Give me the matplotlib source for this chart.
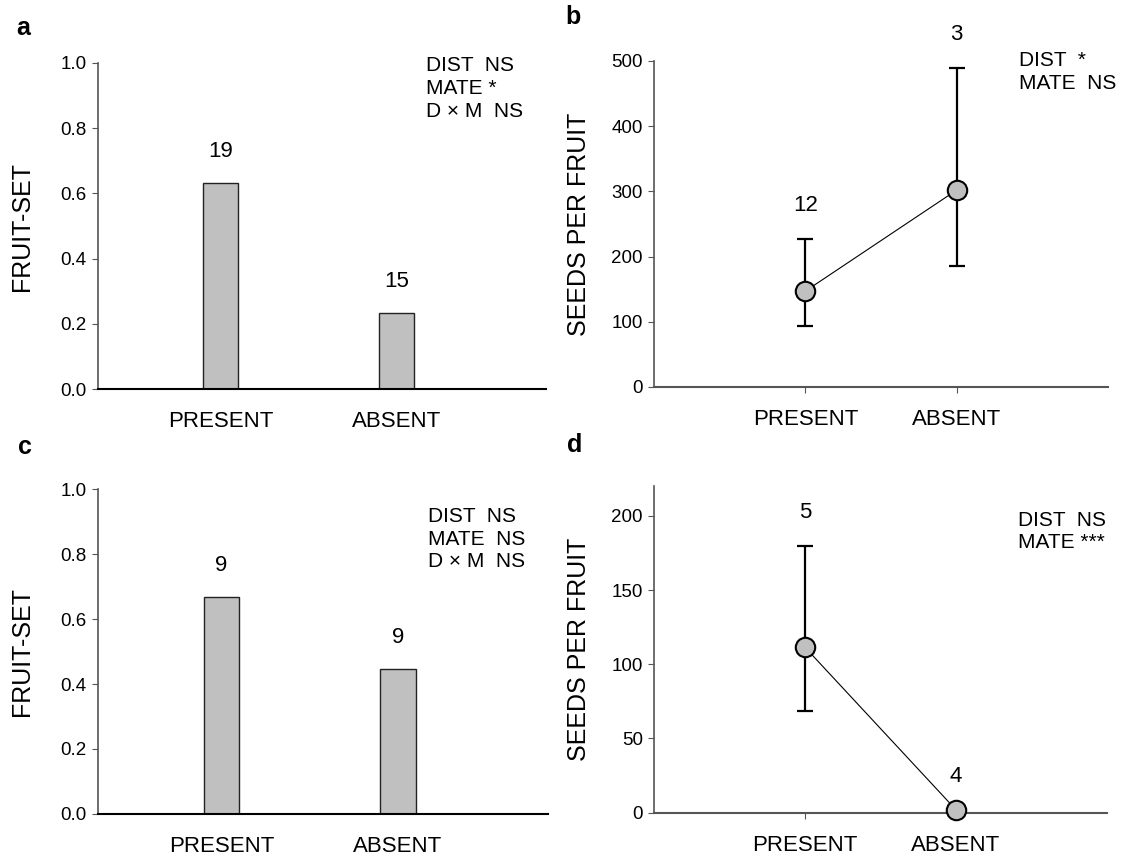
import numpy as np
import matplotlib
matplotlib.use("Agg")
import matplotlib.pyplot as plt

plt.rcParams['font.family'] = ['Liberation Sans', 'DejaVu Sans']

groups = ["PRESENT", "ABSENT"]

# panel a / c : fruit-set (bars)
fruitset_a = [0.632, 0.233]
n_a = ["19", "15"]
stats_a = "DIST  NS\nMATE *\nD \u00d7 M  NS"

fruitset_c = [0.667, 0.445]
n_c = ["9", "9"]
stats_c = "DIST  NS\nMATE  NS\nD \u00d7 M  NS"

# panel b / d : seeds per fruit (mean with error bars)
seeds_b = [147, 302]
seeds_b_lo = [94, 186]
seeds_b_hi = [227, 490]
n_b = ["12", "3"]
stats_b = "DIST  *\nMATE  NS"

seeds_d = [111.5, 2]
seeds_d_lo = [68.5, 2]
seeds_d_hi = [180, 2]
n_d = ["5", "4"]
stats_d = "DIST  NS\nMATE ***"

fig = plt.figure(figsize=(11.21, 8.59), dpi=100)
axa = fig.add_axes([0.0871, 0.547, 0.400, 0.3797])
axb = fig.add_axes([0.5834, 0.5495, 0.405, 0.3795])
axc = fig.add_axes([0.0871, 0.0524, 0.402, 0.3783])
axd = fig.add_axes([0.5834, 0.0539, 0.404, 0.3801])

spine_col = "#555555"
x = np.arange(len(groups))


def style(ax):
    for s in ["top", "right"]:
        ax.spines[s].set_visible(False)
    ax.spines["left"].set_color(spine_col)
    ax.spines["bottom"].set_color(spine_col)
    ax.spines["left"].set_linewidth(1.2)
    ax.spines["bottom"].set_linewidth(1.5)
    ax.tick_params(axis="y", direction="out", length=4, color=spine_col,
                   labelsize=13.5, pad=4)
    ax.tick_params(axis="x", direction="out", length=4, color=spine_col,
                   labelsize=16, pad=12)


def bar_panel(ax, vals, ns, stats, stats_y):
    ax.bar(x, vals, width=0.2, color="#c0c0c0", edgecolor="#222222", linewidth=1)
    for xi, v, n in zip(x, vals, ns):
        ax.annotate(n, (xi, v), xytext=(0, 23), textcoords="offset points",
                    ha="center", va="center", fontsize=16)
    ax.set_xlim(-0.7, 1.85)
    ax.set_ylim(0, 1.0)
    ax.set_yticks(np.arange(0, 1.01, 0.2))
    ax.set_yticklabels([f"{t:.1f}" for t in np.arange(0, 1.01, 0.2)])
    ax.set_xticks(x)
    ax.set_xticklabels(groups)
    style(ax)
    ax.tick_params(axis="x", length=0, pad=16)
    ax.spines["bottom"].set_color("black")
    ax.set_ylabel("FRUIT-SET", fontsize=18, labelpad=19)
    ax.text(0.732, stats_y, stats, transform=ax.transAxes, ha="left", va="top",
            fontsize=15, linespacing=1.25)


def seed_panel(ax, vals, lo, hi, ns, stats, ymax, step, stats_y):
    vals = np.array(vals)
    yerr = [vals - np.array(lo), np.array(hi) - vals]
    ax.errorbar(x, vals, yerr=yerr, fmt="none", ecolor="black", elinewidth=1.6,
                capsize=5.6, capthick=1.6, zorder=2)
    ax.plot(x, vals, color="black", linewidth=0.8, marker="o", markersize=14,
            markerfacecolor="#c0c0c0", markeredgecolor="black",
            markeredgewidth=1.5, zorder=3, clip_on=False)
    for xi, h, n in zip(x, hi, ns):
        ax.annotate(n, (xi, h), xytext=(0, 24), textcoords="offset points",
                    ha="center", va="center", fontsize=16, annotation_clip=False)
    ax.set_xlim(-1, 2)
    ax.set_ylim(0, ymax)
    ax.set_yticks(np.arange(0, ymax + 1, step))
    ax.set_xticks(x)
    ax.set_xticklabels(groups)
    style(ax)
    ax.set_ylabel("SEEDS PER FRUIT", fontsize=18, labelpad=15)
    ax.text(0.804, stats_y, stats, transform=ax.transAxes, ha="left", va="top",
            fontsize=15, linespacing=1.25)


bar_panel(axa, fruitset_a, n_a, stats_a, 1.02)
bar_panel(axc, fruitset_c, n_c, stats_c, 0.945)
seed_panel(axb, seeds_b, seeds_b_lo, seeds_b_hi, n_b, stats_b, 500, 100, 1.03)
seed_panel(axd, seeds_d, seeds_d_lo, seeds_d_hi, n_d, stats_d, 220, 50, 0.925)

# panel letters
for letter, (fx, fy) in zip("abcd", [(16, 28), (565, 17), (18, 447), (567, 445)]):
    fig.text(fx / 1121, 1 - fy / 859, letter, fontsize=18, fontweight="bold",
             ha="left", va="center")

fig.savefig("out.png", dpi=100)
